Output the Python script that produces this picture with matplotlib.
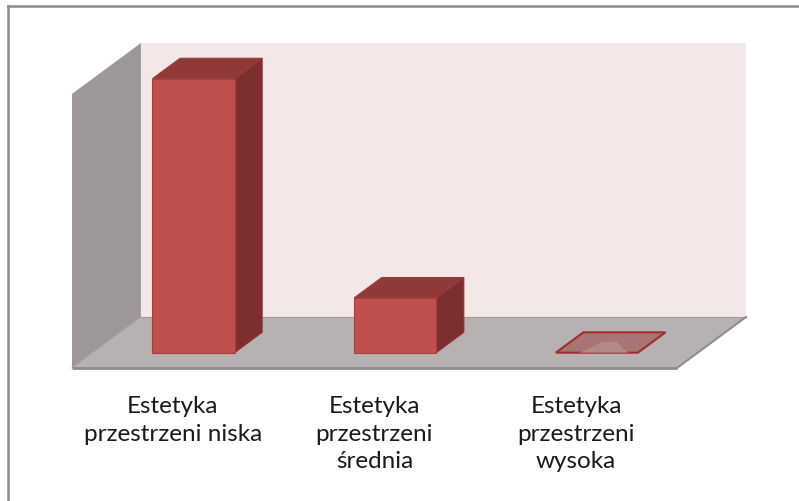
import matplotlib
matplotlib.use('Agg')
import matplotlib.pyplot as plt
from matplotlib.patches import Polygon
from matplotlib.lines import Line2D

# dane
kategorie = ['Estetyka\nprzestrzeni niska', 'Estetyka\nprzestrzeni\nśrednia', 'Estetyka\nprzestrzeni\nwysoka']
wartosci = [20, 4, 0]
ymax = 20

# parametry "3D" (przesuniecie glebokosci w jednostkach osi)
DX = 0.342
DY = 3.72
HW = 0.2035
D0, D1 = 0.3, 0.7


def proj(x, v, d):
    return (x + d * DX, v + d * DY)


def poly(ax, pts, fc, ec='none', lw=0, z=1):
    ax.add_patch(Polygon([proj(*p) for p in pts], closed=True, facecolor=fc,
                         edgecolor=ec, linewidth=lw, zorder=z, joinstyle='miter'))


fig = plt.figure(figsize=(7.99, 5.02), dpi=100)
ax = fig.add_axes([0, 0, 1, 1])
ax.set_xlim(-0.857, 3.105)
ax.set_ylim(-9.708, 26.93)
ax.axis('off')

x0, x1 = -0.5, len(kategorie) - 0.5

# sciany i podloga
poly(ax, [(x0, 0, 1), (x1, 0, 1), (x1, ymax, 1), (x0, ymax, 1)], '#f3e7e7', z=1)
poly(ax, [(x0, 0, 0), (x0, 0, 1), (x0, ymax, 1), (x0, ymax, 0)], '#9d9797', z=2)
poly(ax, [(x0, 0, 0), (x1, 0, 0), (x1, 0, 1), (x0, 0, 1)], '#b8b1b1', z=2)
ax.plot(*zip(proj(x0, 0, 1), proj(x1, 0, 1)), color='#a09a9a', lw=0.8, zorder=3)
ax.plot(*zip(proj(x0, 0, 0), proj(x0, 0, 1)), color='#aaa4a4', lw=0.8, zorder=3)
ax.plot(*zip(proj(x1, 0, 0), proj(x1, 0, 1)), color='#8e8e8e', lw=1.5, zorder=3)
ax.plot(*zip(proj(x0, 0, 0), proj(x1, 0, 0)), color='#8e8e8e', lw=2, zorder=3,
        solid_capstyle='butt')

# slupki
for i, v in enumerate(wartosci):
    l, r = i - HW, i + HW
    if v > 0:
        poly(ax, [(r, 0, D0), (r, 0, D1), (r, v, D1), (r, v, D0)], '#7c2f2e', '#8a3433', 0.8, 5)
        poly(ax, [(l, v, D0), (r, v, D0), (r, v, D1), (l, v, D1)], '#8f3a39', '#9a3b39', 0.8, 5)
        poly(ax, [(l, 0, D0), (r, 0, D0), (r, v, D0), (l, v, D0)], '#c0504d', '#a33f3c', 0.8, 6)
    else:
        poly(ax, [(l, 0, D0), (r, 0, D0), (r, 0, D1), (l, 0, D1)], '#a67574', '#a02e2c', 1.5, 5)
        poly(ax, [(l + 0.119, 0, D0), (l + 0.357, 0, D0), (l + 0.228, 0, 0.516),
                  (l + 0.159, 0, 0.516)], '#b38887', z=5)

# etykiety kategorii
for i, lab in enumerate(kategorie):
    ax.text(i, -2.0, lab, ha='center', va='top', multialignment='center',
            fontsize=17.5, family='Lato', color='#1a1a1a', linespacing=1.38)

# ramka wykresu
fig.add_artist(Line2D([7.5 / 799, 1], [1 - 6.5 / 502, 1 - 6.5 / 502], color='#8c8c8c', lw=1.8,
                      transform=fig.transFigure))
fig.add_artist(Line2D([7.5 / 799, 7.5 / 799], [0, 1 - 6.5 / 502], color='#8c8c8c', lw=1.8,
                      transform=fig.transFigure))

plt.savefig('out.png', dpi=100, facecolor='white')
